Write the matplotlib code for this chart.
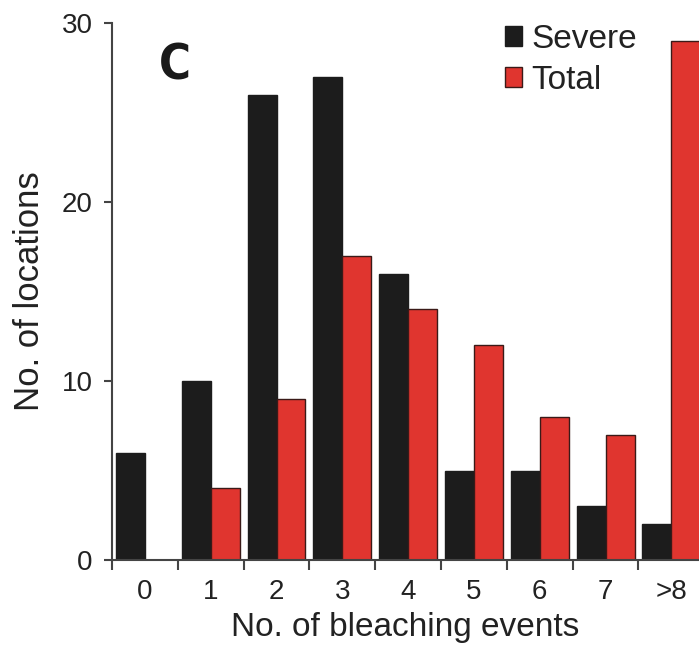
import matplotlib
matplotlib.use("Agg")
import matplotlib.pyplot as plt
import numpy as np

# Bleaching events histogram, panel C
categories = ["0", "1", "2", "3", "4", "5", "6", "7", ">8"]
severe = [6, 10, 26, 27, 16, 5, 5, 3, 2]
total = [0, 4, 9, 17, 14, 12, 8, 7, 29]
yticks = [0, 10, 20, 30]

BLACK = "#1c1c1c"
RED = "#e0352f"
TXT = "#222222"

plt.rcParams["font.family"] = ["Liberation Sans", "DejaVu Sans"]

fig = plt.figure(figsize=(6.99, 6.46), dpi=100)
ax = fig.add_axes([112 / 699, 1 - 560 / 646, 1 - 112 / 699, (560 - 23) / 646])

x = np.arange(len(categories))
w = 0.44
ax.bar(x - w / 2, severe, width=w, color=BLACK, edgecolor=BLACK, linewidth=1, label="Severe")
ax.bar(x + w / 2, total, width=w, color=RED, edgecolor="#3a1a18", linewidth=1, label="Total")

ax.set_xlim(-0.5, 8.42)
ax.set_ylim(0, 30)

# category labels at centres, tick marks on group boundaries
ax.set_xticks(x)
ax.set_xticklabels(categories, fontsize=20, color=TXT)
ax.tick_params(axis="x", length=0, pad=14)
ax.set_xticks(x - 0.5, minor=True)
ax.tick_params(axis="x", which="minor", length=7, width=1.5, color="#444444", direction="out")

ax.set_yticks(yticks)
ax.set_yticklabels([str(t) for t in yticks], fontsize=20, color=TXT)
ax.tick_params(axis="y", length=6, width=1.5, color="#444444", direction="out", pad=8)

for s in ["top", "right"]:
  ax.spines[s].set_visible(False)
for s in ["left", "bottom"]:
  ax.spines[s].set_linewidth(1.5)
  ax.spines[s].set_color("#444444")

ax.set_xlabel("No. of bleaching events", fontsize=24, color=TXT)
ax.xaxis.set_label_coords(0.5, -0.097)
ax.set_ylabel("No. of locations", fontsize=25, color=TXT)
ax.yaxis.label.set_va("center")
ax.yaxis.set_label_coords(-0.14, 0.5)

fig.text(175 / 699, 1 - 66 / 646, "C", fontsize=35, fontweight="bold",
         family="DejaVu Sans", fontstretch="condensed",
         color="#1a1a1a", ha="center", va="center")

leg = fig.legend(loc="upper left", bbox_to_anchor=(505 / 699, 1 - 24 / 646),
                 frameon=False, fontsize=24, handlelength=0.52, handleheight=0.52,
                 handletextpad=0.27, labelspacing=0.29, borderpad=0, borderaxespad=0)
for t in leg.get_texts():
  t.set_color(TXT)

fig.savefig("out.png", dpi=100)
